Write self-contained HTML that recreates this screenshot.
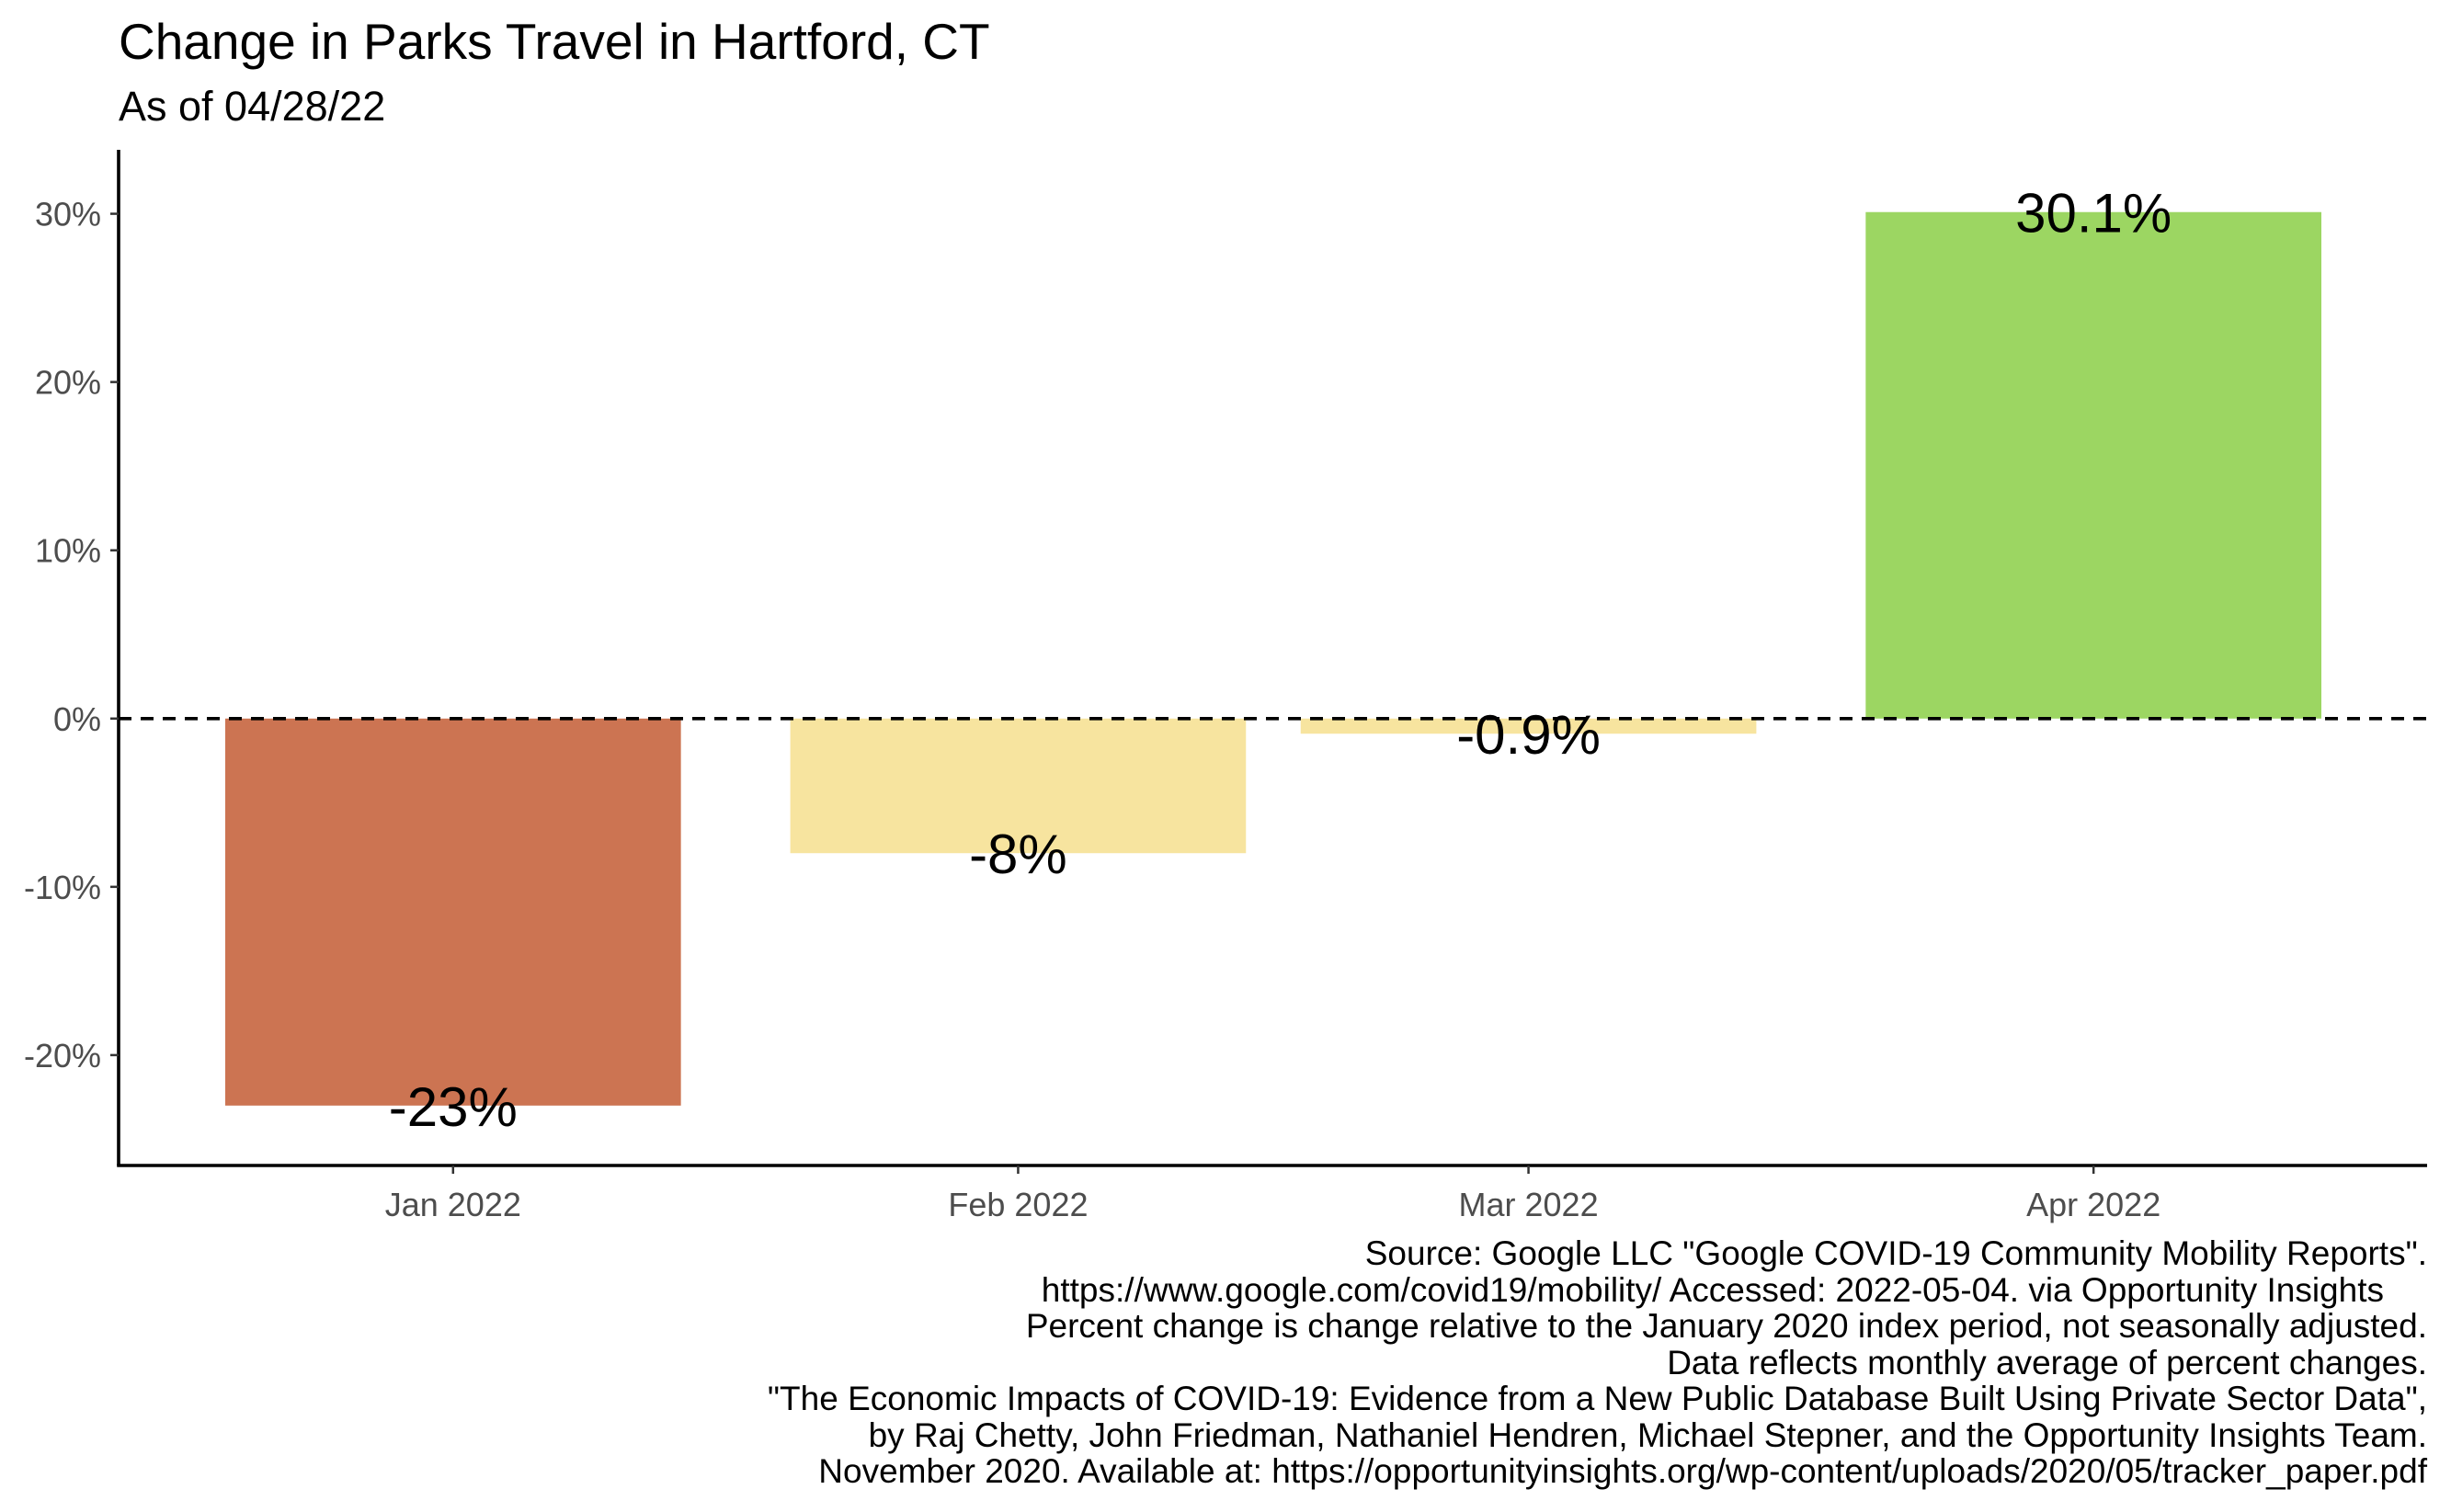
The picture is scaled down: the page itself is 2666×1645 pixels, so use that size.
<!DOCTYPE html>
<html><head><meta charset="utf-8"><style>
html,body{margin:0;padding:0;background:#fff;}
svg{display:block;font-family:"Liberation Sans",Arial,sans-serif;}
</style></head><body>
<svg id="chart" width="2666" height="1645" viewBox="0 0 2666 1645">
<text x="129" y="64" font-size="55" fill="#000">Change in Parks Travel in Hartford, CT</text>
<text x="129" y="131" font-size="45" fill="#000">As of 04/28/22</text>
<g id="plot"></g>
<g id="caption" font-size="37" fill="#000" text-anchor="end">
<text x="2640" y="1376">Source: Google LLC "Google COVID-19 Community Mobility Reports".</text>
<text x="2593" y="1416">https://www.google.com/covid19/mobility/ Accessed: 2022-05-04. via Opportunity Insights</text>
<text x="2640" y="1455">Percent change is change relative to the January 2020 index period, not seasonally adjusted.</text>
<text x="2640" y="1495">Data reflects monthly average of percent changes.</text>
<text x="2640" y="1534">"The Economic Impacts of COVID-19: Evidence from a New Public Database Built Using Private Sector Data",</text>
<text x="2640" y="1574">by Raj Chetty, John Friedman, Nathaniel Hendren, Michael Stepner, and the Opportunity Insights Team.</text>
<text x="2640" y="1613">November 2020. Available at: https://opportunityinsights.org/wp-content/uploads/2020/05/tracker_paper.pdf</text>
</g>
</svg>
<script>
const categories = ["Jan 2022", "Feb 2022", "Mar 2022", "Apr 2022"];
const dayOffsets = [0, 31, 59, 90];
const values = [-23, -8, -0.9, 30.1];
const valueLabels = ["-23%", "-8%", "-0.9%", "30.1%"];
const barColors = ["#CC7452", "#F7E49F", "#F7E49F", "#9CD662"];
const yTicks = [-20, -10, 0, 10, 20, 30];
const yTickLabels = ["-20%", "-10%", "0%", "10%", "20%", "30%"];

const NS = "http://www.w3.org/2000/svg";
const L = 129, R = 2640, T = 163, B = 1268;
const xMin = -18.35, xMax = 108.3, yMin = -26.56, yMax = 33.8;
const barDays = 25;
function xs(d){ return L + (d - xMin) / (xMax - xMin) * (R - L); }
function ys(v){ return B - (v - yMin) / (yMax - yMin) * (B - T); }
const g = document.getElementById("plot");
function el(tag, attrs){ const e = document.createElementNS(NS, tag); for (const k in attrs) e.setAttribute(k, attrs[k]); g.appendChild(e); return e; }

values.forEach((v, i) => {
  const x0 = xs(dayOffsets[i] - barDays/2), x1 = xs(dayOffsets[i] + barDays/2);
  const r = el("rect", {x: x0, y: Math.min(ys(v), ys(0)), width: x1 - x0, height: Math.abs(ys(v) - ys(0)), fill: barColors[i]});
  
  
});
const zl = el("line", {x1: L, x2: R, y1: ys(0), y2: ys(0), stroke: "#000", "stroke-width": 3.6, "stroke-dasharray": "14 10"});


values.forEach((v, i) => {
  const t = el("text", {x: xs(dayOffsets[i]), y: ys(v) + 22, "font-size": 60, "text-anchor": "middle", fill: "#000"});
  t.textContent = valueLabels[i];
  
  
});
const ya = el("line", {x1: L, x2: L, y1: T, y2: B, stroke: "#000", "stroke-width": 3.6});


const xa = el("line", {x1: L - 1.8, x2: R, y1: B, y2: B, stroke: "#000", "stroke-width": 3.6});


yTicks.forEach((v, i) => {
  const tk = el("line", {x1: L - 9, x2: L, y1: ys(v), y2: ys(v), stroke: "#333", "stroke-width": 2.5});
  
  
  const t = el("text", {x: L - 19, y: ys(v) + 13, "font-size": 36, "text-anchor": "end", fill: "#4d4d4d"});
  t.textContent = yTickLabels[i];
  
  
});
categories.forEach((c, i) => {
  const tk = el("line", {x1: xs(dayOffsets[i]), x2: xs(dayOffsets[i]), y1: B, y2: B + 9, stroke: "#333", "stroke-width": 2.5});
  
  
  const t = el("text", {x: xs(dayOffsets[i]), y: B + 55, "font-size": 36, "text-anchor": "middle", fill: "#4d4d4d"});
  t.textContent = c;
  
  
});
</script>
</body></html>
